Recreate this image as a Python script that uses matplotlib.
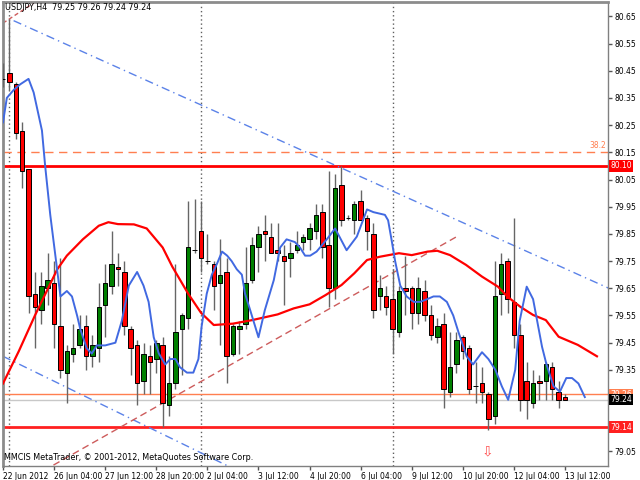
import numpy as np
import matplotlib
matplotlib.use('Agg')
import matplotlib.pyplot as plt
import matplotlib.transforms as mtransforms

# USDJPY H4 candles, 22 Jun 2012 20:00 .. 13 Jul 2012 12:00
opens = [80.42, 80.44, 80.40, 80.23, 80.09, 79.63, 79.57, 79.65, 79.67, 79.51,
         79.34, 79.41, 79.44, 79.51, 79.40, 79.43, 79.59, 79.66, 79.73, 79.71,
         79.50, 79.44, 79.31, 79.40, 79.39, 79.44, 79.22, 79.30, 79.50, 79.54,
         79.79, 79.86, 79.75, 79.74, 79.67, 79.71, 79.41, 79.50, 79.52, 79.68,
         79.80, 79.86, 79.84, 79.79, 79.77, 79.76, 79.79, 79.82, 79.83, 79.86,
         79.93, 79.81, 79.65, 80.03, 79.91, 79.90, 79.97, 79.91, 79.85, 79.62,
         79.62, 79.61, 79.49, 79.65, 79.65, 79.56, 79.64, 79.55, 79.47, 79.52,
         79.27, 79.37, 79.47, 79.43, 79.29, 79.30, 79.26, 79.18, 79.63, 79.75,
         79.60, 79.48, 79.31, 79.23, 79.31, 79.31, 79.36, 79.27, 79.25]
highs = [80.48, 80.64, 80.41, 80.26, 80.09, 79.71, 79.71, 79.78, 79.75, 79.76,
         79.44, 79.52, 79.55, 79.55, 79.48, 79.67, 79.74, 79.86, 79.78, 79.75,
         79.51, 79.46, 79.45, 79.44, 79.46, 79.47, 79.40, 79.74, 79.56, 79.97,
         79.98, 79.97, 79.85, 79.75, 79.83, 79.76, 79.52, 79.53, 79.80, 79.84,
         79.88, 79.92, 79.89, 79.89, 79.81, 79.82, 79.86, 79.85, 79.89, 79.96,
         79.96, 80.08, 80.07, 80.10, 79.92, 79.97, 80.01, 79.92, 79.89, 79.70,
         79.66, 79.72, 79.66, 79.77, 79.66, 79.69, 79.68, 79.59, 79.54, 79.56,
         79.49, 79.49, 79.48, 79.44, 79.38, 79.36, 79.27, 79.75, 79.78, 79.76,
         79.91, 79.52, 79.38, 79.35, 79.33, 79.38, 79.38, 79.31, 79.26]
lows = [80.39, 80.38, 80.20, 80.02, 79.56, 79.43, 79.52, 79.59, 79.43, 79.32,
        79.23, 79.38, 79.43, 79.35, 79.36, 79.38, 79.47, 79.63, 79.66, 79.48,
        79.33, 79.22, 79.26, 79.26, 79.34, 79.14, 79.18, 79.28, 79.33, 79.50,
        79.78, 79.71, 79.74, 79.57, 79.44, 79.30, 79.40, 79.41, 79.50, 79.67,
        79.71, 79.75, 79.78, 79.75, 79.59, 79.69, 79.78, 79.79, 79.79, 79.83,
        79.76, 79.58, 79.61, 79.88, 79.90, 79.85, 79.90, 79.79, 79.54, 79.57,
        79.55, 79.41, 79.47, 79.55, 79.50, 79.52, 79.53, 79.46, 79.45, 79.21,
        79.25, 79.34, 79.39, 79.26, 79.23, 79.23, 79.13, 79.15, 79.55, 79.56,
        79.43, 79.20, 79.17, 79.21, 79.24, 79.24, 79.24, 79.21, 79.24]
closes = [80.42, 80.41, 80.22, 80.08, 79.62, 79.58, 79.66, 79.68, 79.52, 79.35,
          79.42, 79.43, 79.50, 79.40, 79.44, 79.58, 79.67, 79.74, 79.72, 79.51,
          79.43, 79.30, 79.41, 79.38, 79.45, 79.23, 79.30, 79.49, 79.55, 79.80,
          79.79, 79.76, 79.75, 79.66, 79.70, 79.40, 79.51, 79.51, 79.67, 79.81,
          79.85, 79.85, 79.78, 79.78, 79.75, 79.78, 79.81, 79.84, 79.87, 79.92,
          79.80, 79.65, 80.02, 79.90, 79.91, 79.96, 79.90, 79.86, 79.57, 79.65,
          79.58, 79.50, 79.64, 79.64, 79.56, 79.65, 79.55, 79.48, 79.51, 79.28,
          79.36, 79.46, 79.42, 79.28, 79.29, 79.27, 79.17, 79.62, 79.74, 79.61,
          79.48, 79.24, 79.24, 79.30, 79.30, 79.37, 79.28, 79.24, 79.24]

# moving averages (bar index, price), drawn shifted forward like on the chart
ma_fast_x = [0, 0.6, 1.7, 2.7, 4.0, 4.8, 6.1, 6.6, 7.4, 8.2, 9.0, 10.0, 10.8, 11.6,
             12.1, 13.1, 13.9, 14.7, 16, 17.6, 18.6, 19.7, 21, 22, 22.8, 23.6, 24.4,
             25.4, 26.2, 27, 27.7, 28.8, 29.8, 30.6, 31.1, 31.9, 32.7, 33.5, 34.3,
             35.1, 35.8, 36.6, 37.4, 37.9, 38.7, 40, 41, 42.4, 43.4, 44.4, 45.7, 46.5,
             47.3, 48.1, 49.1, 50.7, 52, 53.8, 55.4, 57, 58, 59.8, 60.3, 60.9, 61.4,
             62.2, 63.2, 64.3, 65.3, 66.4, 67.4, 68.4, 69.5, 70.5, 71.3, 72.6, 73.6,
             75, 76, 77.1, 78.1, 79.1, 80.2, 80.9, 82, 83, 84.4, 85.1, 86.2, 87.2,
             88.2, 89.1, 90.1, 91.1]
ma_fast_y = [80.26, 80.35, 80.38, 80.40, 80.42, 80.37, 80.23, 80.10, 79.92, 79.77,
             79.62, 79.64, 79.62, 79.55, 79.50, 79.43, 79.41, 79.44, 79.44, 79.45,
             79.53, 79.66, 79.71, 79.66, 79.60, 79.47, 79.41, 79.37, 79.39, 79.39,
             79.36, 79.34, 79.34, 79.39, 79.51, 79.63, 79.70, 79.74, 79.785, 79.77,
             79.75, 79.72, 79.70, 79.63, 79.57, 79.47, 79.57, 79.68, 79.80, 79.83,
             79.82, 79.80, 79.77, 79.77, 79.785, 79.83, 79.87, 79.79, 79.84, 79.94,
             79.93, 79.92, 79.90, 79.82, 79.75, 79.66, 79.62, 79.60, 79.60, 79.61,
             79.62, 79.62, 79.60, 79.55, 79.49, 79.40, 79.37, 79.415, 79.39, 79.35,
             79.29, 79.24, 79.35, 79.53, 79.656, 79.61, 79.435, 79.37, 79.29, 79.27,
             79.32, 79.32, 79.30, 79.25]
ma_slow_x = [0, 2.5, 5, 8.5, 10, 12.5, 15, 16.5, 18, 20.5, 22.5, 25, 26.5, 29, 31,
             33, 36, 39, 43, 45.5, 48, 50.5, 53, 55, 57, 59, 62, 64, 66.5, 68, 70,
             72.5, 75, 77.5, 79, 81, 83, 85, 87, 90, 93]
ma_slow_y = [79.30, 79.42, 79.55, 79.72, 79.77, 79.83, 79.88, 79.893, 79.886, 79.885,
             79.87, 79.80, 79.73, 79.63, 79.56, 79.515, 79.52, 79.533, 79.554, 79.576,
             79.591, 79.625, 79.662, 79.705, 79.754, 79.766, 79.779, 79.772, 79.785,
             79.788, 79.772, 79.736, 79.693, 79.656, 79.619, 79.582, 79.552, 79.533,
             79.472, 79.442, 79.40]

# drawn objects
channel_top = ([1.66, 94.3], [80.634, 79.656])
channel_bottom = ([0, 31], [79.40, 79.045])
trend_up = ([7.9, 71.05], [79.0, 79.84])
fibo_line = ([0, 5.2], [80.625, 80.705])
fibo_382 = 80.152
resistance = 80.10
support = 79.14
ask_price = 79.26
bid_price = 79.24
separators = [1, 31, 61]

price_ticks = [79.05, 79.15, 79.25, 79.35, 79.45, 79.55, 79.65, 79.75, 79.85,
               79.95, 80.05, 80.15, 80.25, 80.35, 80.45, 80.55, 80.65]
hidden_ticks = [79.15, 79.25]   # covered by the price boxes

tick_pos = [0, 8, 16, 24, 32, 40, 48, 56, 64, 72, 80, 88]
tick_labels = ['22 Jun 2012', '26 Jun 04:00', '27 Jun 12:00', '28 Jun 20:00',
               '2 Jul 04:00', '3 Jul 12:00', '4 Jul 20:00', '6 Jul 04:00',
               '9 Jul 12:00', '10 Jul 20:00', '12 Jul 04:00', '13 Jul 12:00']

plt.rcParams['font.family'] = 'DejaVu Sans'
fig = plt.figure(figsize=(6.4, 4.8), dpi=100)
ax = fig.add_axes([3 / 640, 14.5 / 480, 605 / 640, 463.5 / 480])

grey = '#8c8c8c'
coral = '#ff7f50'
blue = '#4169e1'

idx = np.arange(len(opens))
o = np.array(opens)
c = np.array(closes)

# candles
ax.vlines(idx, lows, highs, color='#666666', lw=1, zorder=3)
cols = np.where(c > o, '#008000', '#ff0000')
ax.bar(idx, np.abs(c - o), bottom=np.minimum(o, c), width=0.7, color=cols,
       edgecolor='black', linewidth=0.7, zorder=4)

# separators
for s in separators:
    ax.axvline(s, color='#606060', lw=1, ls=(0, (1, 2)), zorder=1)

# horizontal levels
ax.axhline(resistance, color='#ff0000', lw=2, zorder=2)
ax.axhline(support, color='#ff2020', lw=2, zorder=2)
ax.axhline(ask_price, color=coral, lw=1, zorder=2)
ax.axhline(bid_price, color='#c8c8c8', lw=1, zorder=2)
ax.axhline(fibo_382, color=coral, lw=1, dashes=(6, 4), zorder=2)
ax.text(94.4, fibo_382 + 0.005, '38.2', color=coral, fontsize=5.5,
        ha='right', va='bottom')

# trend lines
def ray(pts, **kw):
    x0, x1 = pts[0]
    y0, y1 = pts[1]
    k = (y1 - y0) / (x1 - x0)
    xe = 100
    ax.plot([x0, xe], [y0, y0 + k * (xe - x0)], **kw)

ray(channel_top, color='#5b82e8', lw=1, ls=(0, (6, 3, 1, 3)), zorder=2)
ray(channel_bottom, color='#5b82e8', lw=1, ls=(0, (6, 3, 1, 3)), zorder=2)
ax.plot(trend_up[0], trend_up[1], color='#cd5c5c', lw=1, dashes=(5, 3), zorder=2)
ax.plot(fibo_line[0], fibo_line[1], color='#cd5c5c', lw=1, dashes=(3, 2), zorder=2)

# moving averages
ax.plot(ma_slow_x, ma_slow_y, color='#ff0000', lw=1.6, zorder=5)
ax.plot(ma_fast_x, ma_fast_y, color=blue, lw=1.4, zorder=5)

# signal arrow
ax.text(75.9, 79.05, '\u21e9', color='#ff5050', fontsize=10, ha='center', va='center')
ax.text(75.9, 79.19, '\u2021', color='#ff3030', fontsize=6, ha='center', va='center')

ax.set_xlim(0.05, 94.73)
ax.set_ylim(78.9985, 80.7026)

ax.yaxis.tick_right()
ax.set_yticks(price_ticks)
ax.set_yticklabels(['' if p in hidden_ticks else '%.2f' % p for p in price_ticks])
ax.set_xticks(tick_pos)
ax.set_xticklabels(tick_labels, ha='left')
ax.tick_params(axis='both', labelsize=5.5, length=3, width=1, color='#555555',
               labelcolor='black', pad=1.5)
ax.tick_params(axis='x', pad=2)

for side in ['left', 'top']:
    ax.spines[side].set_color(grey)
    ax.spines[side].set_linewidth(2)
for side in ['right', 'bottom']:
    ax.spines[side].set_color('#808080')
    ax.spines[side].set_linewidth(1)

# price boxes on the scale
tr = mtransforms.blended_transform_factory(ax.transAxes, ax.transData)
for val, fc in [(resistance, '#ff0000'), (support, '#ff2020'),
                (ask_price, coral), (bid_price, 'black')]:
    ax.text(1.004, val, '%.2f' % val, transform=tr, color='white', fontsize=5.5,
            ha='left', va='center', clip_on=False, zorder=10,
            bbox=dict(boxstyle='square,pad=0.15', fc=fc, ec='none'))

fig.text(5 / 640, 1 - 8 / 480, 'USDJPY,H4  79.25 79.26 79.24 79.24', fontsize=5.8,
         va='center', ha='left')
fig.text(4 / 640, 1 - 457 / 480,
         'MMCIS MetaTrader, \u00a9 2001-2012, MetaQuotes Software Corp.',
         fontsize=5.8, va='center', ha='left')

fig.savefig('out.png', dpi=100)
